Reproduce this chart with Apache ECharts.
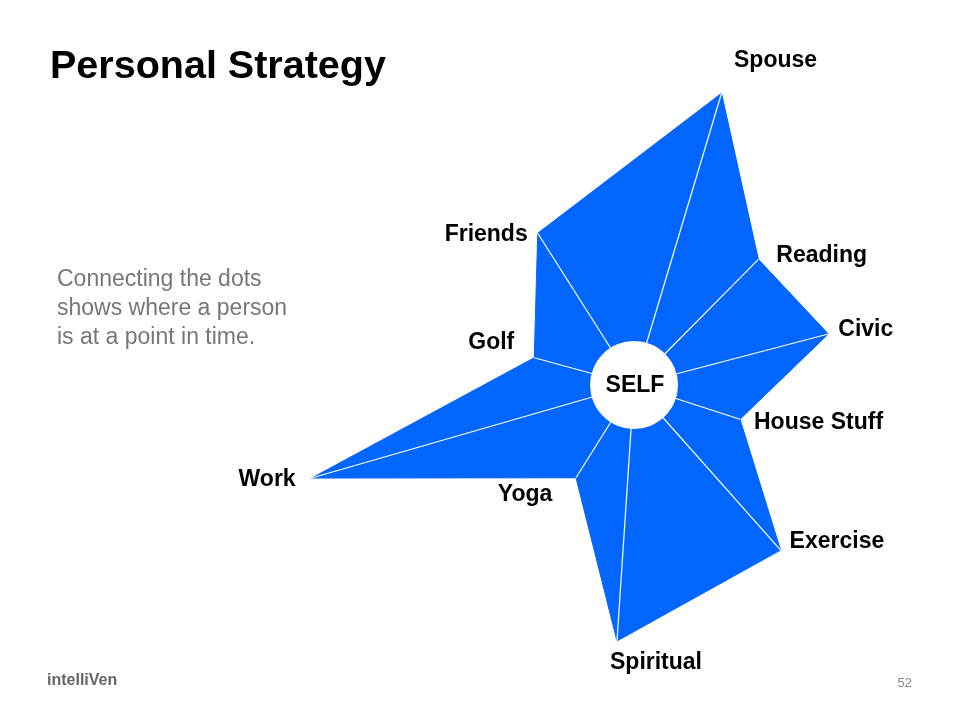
<!DOCTYPE html>
<html><head><meta charset="utf-8">
<script src="https://cdn.jsdelivr.net/npm/echarts@6/dist/echarts.min.js"></script>
<style>html,body{margin:0;padding:0;background:#fff}#c{width:960px;height:720px}</style>
</head><body><div id="c"></div>
<script>
// ---- data ----
const categories = ['Spouse', 'Reading', 'Civic', 'House Stuff', 'Exercise', 'Spiritual', 'Yoga', 'Work', 'Golf', 'Friends'];
const spokeAngles = [16.7, 44.7, 75.3, 107.9, 138.4, 183.8, 212, 253.9, 285.3, 327.6];
const values = [304.6, 176.8, 200.9, 111.4, 220.8, 256.6, 109.4, 335.5, 103.4, 179.7];
const centerLabel = 'SELF';
const titleText = 'Personal Strategy';
const subtitleLines = ['Connecting the dots', 'shows where a person', 'is at a point in time.'];
const brandText = 'intelliVen';
const pageNumber = '52';

// ---- styles ----
const BLUE = '#0066ff';
const FONT = '"Liberation Sans", Arial, sans-serif';
const labelPlacement = [
  [54, -33, 'center'], [18, -4, 'left'], [10, -4, 'left'], [14, 3, 'left'], [9, -8, 'left'],
  [39, 22, 'center'], [-51, 17, 'center'], [-16, 2, 'right'], [-43, -15, 'center'], [-10, 1, 'right']
];

const pointData = categories.map((c, i) => [values[i], spokeAngles[i]]);

const chart = echarts.init(document.getElementById('c'), null, { renderer: 'canvas' });
chart.setOption({
  animation: false,
  backgroundColor: '#ffffff',
  polar: { center: [634, 385], radius: 350 },
  angleAxis: { type: 'value', min: 0, max: 360, startAngle: 90, clockwise: true, show: false,
    axisLine: { show: false }, splitLine: { show: false }, axisLabel: { show: false }, axisTick: { show: false } },
  radiusAxis: { type: 'value', min: 0, max: 350, show: false,
    axisLine: { show: false }, splitLine: { show: false }, axisLabel: { show: false }, axisTick: { show: false } },
  graphic: [
    { type: 'text', x: 50, y: 67, style: { text: titleText, font: 'bold 39.5px ' + FONT, fill: '#000', align: 'left', verticalAlign: 'middle' } },
    ...subtitleLines.map((t, i) => ({ type: 'text', x: 57, y: 280 + i * 29,
      style: { text: t, font: '23px ' + FONT, fill: '#777777', align: 'left', verticalAlign: 'middle' } })),
    { type: 'text', x: 47, y: 681, style: { text: brandText, font: 'bold 16px ' + FONT, fill: '#666666', align: 'left', verticalAlign: 'middle' } },
    { type: 'text', x: 912, y: 683, style: { text: pageNumber, font: '13px ' + FONT, fill: '#8a8a8a', align: 'right', verticalAlign: 'middle' } }
  ],
  series: [
    {
      type: 'custom', coordinateSystem: 'polar', data: pointData, z: 2, silent: true,
      renderItem: function (params, api) {
        if (params.dataIndex !== 0) return null;
        const pts = pointData.map(d => api.coord(d));
        return { type: 'polygon', shape: { points: pts }, style: { fill: BLUE, stroke: BLUE, lineWidth: 1 } };
      }
    },
    {
      type: 'custom', coordinateSystem: 'polar', data: pointData, z: 3, silent: true,
      renderItem: function (params, api) {
        const c = api.coord([0, 0]);
        const p = api.coord([api.value(0), api.value(1)]);
        return { type: 'line', shape: { x1: c[0], y1: c[1], x2: p[0], y2: p[1] }, style: { stroke: '#ffffff', lineWidth: 1.2 } };
      }
    },
    {
      type: 'custom', coordinateSystem: 'polar', data: [[0, 0]], z: 4, silent: true,
      renderItem: function (params, api) {
        const c = api.coord([0, 0]);
        return { type: 'group', children: [
          { type: 'circle', shape: { cx: c[0], cy: c[1], r: 44 }, style: { fill: '#ffffff' } },
          { type: 'text', x: c[0] + 1, y: c[1] + 1, style: { text: centerLabel, font: 'bold 23px ' + FONT, fill: '#000', align: 'center', verticalAlign: 'middle' } }
        ] };
      }
    },
    {
      type: 'custom', coordinateSystem: 'polar', data: pointData, z: 5, silent: true,
      renderItem: function (params, api) {
        const i = params.dataIndex;
        const p = api.coord([api.value(0), api.value(1)]);
        const pl = labelPlacement[i];
        return { type: 'text', x: p[0] + pl[0], y: p[1] + pl[1],
          style: { text: categories[i], font: 'bold 23px ' + FONT, fill: '#000', align: pl[2], verticalAlign: 'middle' } };
      }
    }
  ]
});
</script></body></html>
